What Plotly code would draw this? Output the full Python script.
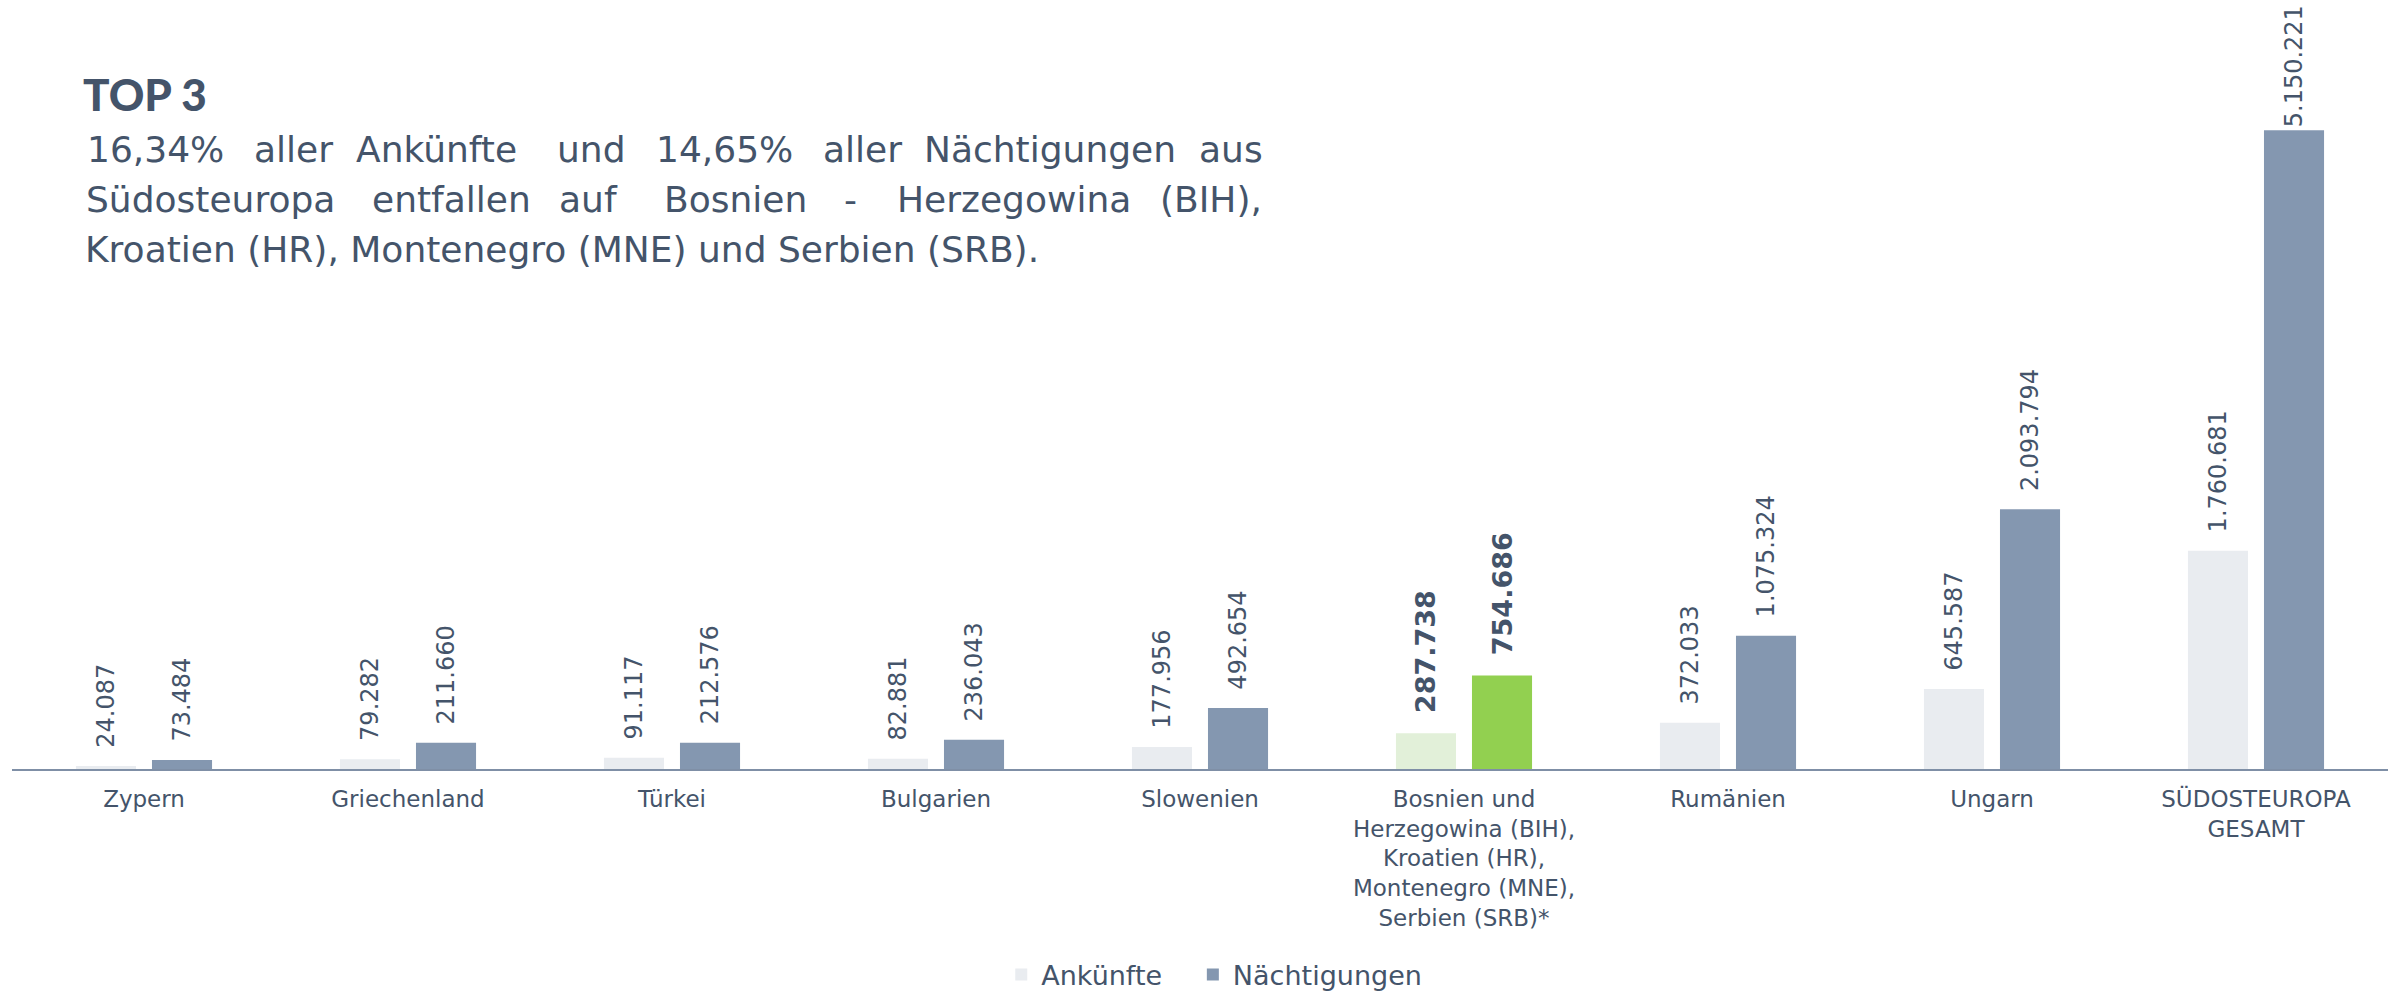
import plotly.graph_objects as go

# ---------------- data ----------------
categories = [
    "Zypern",
    "Griechenland",
    "Türkei",
    "Bulgarien",
    "Slowenien",
    "Bosnien und<br>Herzegowina (BIH),<br>Kroatien (HR),<br>Montenegro (MNE),<br>Serbien (SRB)*",
    "Rumänien",
    "Ungarn",
    "SÜDOSTEUROPA<br>GESAMT",
]
ankuenfte = [24087, 79282, 91117, 82881, 177956, 287738, 372033, 645587, 1760681]
naechtigungen = [73484, 211660, 212576, 236043, 492654, 754686, 1075324, 2093794, 5150221]
highlight_index = 5  # BIH/HR/MNE/SRB
series_names = ["Ankünfte", "Nächtigungen"]

title_head = "TOP 3"
line1_words = ["16,34%", "aller", "Ankünfte", "und", "14,65%", "aller", "Nächtigungen", "aus"]
line2_words = ["Südosteuropa", "entfallen", "auf", "Bosnien", "-", "Herzegowina", "(BIH),"]
line3_text = "Kroatien (HR), Montenegro (MNE) und Serbien (SRB)."

# ---------------- style ----------------
W, H = 2395, 993
ML, MR, MT, MB = 12, 7, 10, 224
PLOT_W = W - ML - MR
PLOT_H = H - MT - MB
Y_MAX = 6.12e6

TXT = "#44546A"
C_ANK = "#E9ECF0"
C_ANK_HL = "#E2F0D9"
C_NAE = "#8497B0"
C_NAE_HL = "#92D050"
FONT = "DejaVu Sans"


def fmt(v):
    return f"{v:,}".replace(",", ".")


def labels(vals):
    out = []
    vmax = max(max(ankuenfte), max(naechtigungen))
    for i, v in enumerate(vals):
        pad = "" if v == vmax else "\u00a0\u00a0"
        s = fmt(v)
        if i == highlight_index:
            s = "<b>" + s + "</b>"
        out.append(pad + s)
    return out


def sizes(vals):
    return [27 if i == highlight_index else 24 for i in range(len(vals))]


ank_colors = [C_ANK_HL if i == highlight_index else C_ANK for i in range(len(categories))]
nae_colors = [C_NAE_HL if i == highlight_index else C_NAE for i in range(len(categories))]

fig = go.Figure()
fig.add_trace(go.Bar(
    name=series_names[0] + "\u00a0\u00a0\u00a0", x=categories, y=ankuenfte,
    marker=dict(color=ank_colors, line=dict(width=0)),
    text=labels(ankuenfte), textposition="outside", textangle=-90,
    textfont=dict(family=FONT, color=TXT, size=sizes(ankuenfte)),
    cliponaxis=False, constraintext="none", hoverinfo="skip",
))
fig.add_trace(go.Bar(
    name=series_names[1], x=categories, y=naechtigungen,
    marker=dict(color=nae_colors, line=dict(width=0)),
    text=labels(naechtigungen), textposition="outside", textangle=-90,
    textfont=dict(family=FONT, color=TXT, size=sizes(naechtigungen)),
    cliponaxis=False, constraintext="none", hoverinfo="skip",
))


def px2x(px):
    return (px - ML) / PLOT_W


def px2y(py):
    return (H - MB - py) / PLOT_H


ann = []
# heading
ann.append(dict(text=title_head, x=px2x(82), y=px2y(94), xanchor="left", yanchor="middle",
                font=dict(family="Lato", size=44, color=TXT, weight=900)))
# justified line 1 : word centres
l1_pos = [(86, "left"), (293, "center"), (436, "center"), (591, "center"), (724, "center"),
          (862, "center"), (1050, "center"), (1264, "right")]
for w, (px, anc) in zip(line1_words, l1_pos):
    ann.append(dict(text=w, x=px2x(px), y=px2y(149), xanchor=anc, yanchor="middle",
                    font=dict(family=FONT, size=36, color=TXT)))
l2_pos = [(85, "left"), (451, "center"), (588, "center"), (735, "center"), (850, "center"),
          (1014, "center"), (1263, "right")]
for w, (px, anc) in zip(line2_words, l2_pos):
    ann.append(dict(text=w, x=px2x(px), y=px2y(200), xanchor=anc, yanchor="middle",
                    font=dict(family=FONT, size=36, color=TXT)))
ann.append(dict(text=line3_text, x=px2x(84), y=px2y(250), xanchor="left", yanchor="middle",
                font=dict(family=FONT, size=36, color=TXT)))
for a in ann:
    a.update(xref="paper", yref="paper", showarrow=False, borderpad=0)

fig.update_layout(
    width=W, height=H,
    margin=dict(l=ML, r=MR, t=MT, b=MB, pad=0, autoexpand=False),
    paper_bgcolor="white", plot_bgcolor="white",
    barmode="group", bargap=0.424, bargroupgap=0.21,
    showlegend=True,
    legend=dict(orientation="h", x=0.506, xanchor="center", y=px2y(975), yanchor="middle",
                font=dict(family=FONT, size=27, color=TXT), itemclick=False, traceorder="normal"),
    annotations=ann,
    font=dict(family=FONT, color=TXT),
)
fig.update_xaxes(showline=True, linecolor="#7F8FA6", linewidth=2, ticks="", showgrid=False,
                 tickfont=dict(family=FONT, size=23, color=TXT), ticklabelstandoff=8,
                 tickangle=0, fixedrange=True, automargin=False)
fig.update_yaxes(range=[0, Y_MAX], visible=False, showgrid=False, zeroline=False,
                 fixedrange=True, automargin=False)

fig.write_html(
    "out.html",
    config={"displayModeBar": False},
    post_script="document.body.style.margin='0';document.body.style.overflow='hidden';",
)
